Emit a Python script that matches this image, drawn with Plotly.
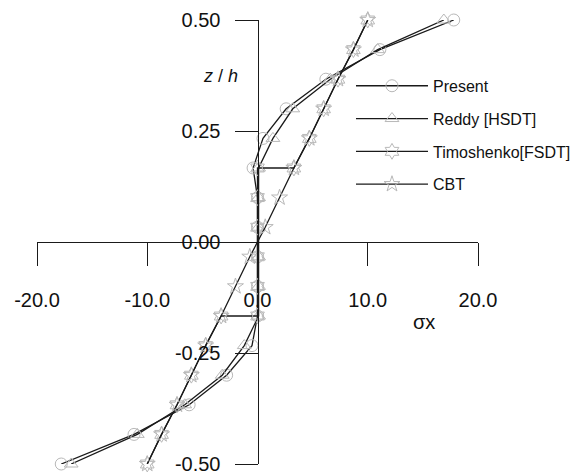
import plotly.graph_objects as go

# ---- data ----
z_levels = [0.5, 0.4333, 0.3667, 0.3, 0.2333, 0.1667, 0.1, 0.0333,
            -0.0333, -0.1, -0.1667, -0.2333, -0.3, -0.3667, -0.4333, -0.5]
present = [17.8, 11.1, 6.2, 2.6, 0.5, -0.4, 0.0, 0.0,
           0.0, 0.0, 0.0, -0.5, -2.8, -6.2, -11.2, -17.8]
reddy = [16.9, 10.9, 6.6, 3.2, 1.4, 0.1, 0.1, 0.1,
         0.1, 0.1, 0.1, -1.2, -3.2, -6.6, -10.9, -16.9]
timo_z = [0.5, 0.4333, 0.3667, 0.3, 0.2333, 0.1667, 0.1667, 0.1, 0.0333,
          -0.0333, -0.1, -0.1667, -0.1667, -0.2333, -0.3, -0.3667, -0.4333, -0.5]
timoshenko = [10.0, 8.7, 7.3, 6.0, 4.7, 3.3, 0.0, 0.0, 0.0,
              0.0, 0.0, 0.0, -3.3, -4.7, -6.0, -7.3, -8.7, -10.0]
cbt = [10.0, 8.7, 7.3, 6.0, 4.7, 3.3, 2.0, 0.7,
       -0.7, -2.0, -3.3, -4.7, -6.0, -7.3, -8.7, -10.0]

x_ticks = [-20, -10, 0, 10, 20]
x_tick_text = ["-20.0", "-10.0", "0.0", "10.0", "20.0"]
y_ticks = [0.5, 0.25, 0.0, -0.25, -0.5]
y_tick_text = ["0.50", "0.25", "0.00", "-0.25", "-0.50"]

FONT = "Liberation Sans, Arial, sans-serif"
LINE = "#1a1a1a"
MARK = "#b8b8b8"

series = [
    ("Present", present, z_levels, "circle-open"),
    ("Reddy [HSDT]", reddy, z_levels, "triangle-up-open"),
    ("Timoshenko[FSDT]", timoshenko, timo_z, "hexagram-open"),
    ("CBT", cbt, z_levels, "star-open"),
]

fig = go.Figure()
for i, (name, xs, zs, sym) in enumerate(series):
    fig.add_trace(go.Scatter(
        x=xs, y=zs, name=name, mode="lines+markers",
        line=dict(color=LINE, width=1.3),
        marker=dict(symbol=sym, size=12, color=MARK, line=dict(color=MARK, width=1)),
        cliponaxis=False, legendgroup=f"g{i}",
    ))

axis_common = dict(
    showgrid=False, zeroline=False, showline=True, linecolor=LINE, linewidth=1,
    ticks="outside", ticklen=23, tickcolor=LINE, tickwidth=1,
    tickfont=dict(family=FONT, size=20, color="#111"),
    anchor="free", position=0.5, automargin=False,
)

# the page body adds an 8 px offset, so the figure is 8 px smaller with shifted margins
fig.update_layout(
    template="none",
    width=579, height=467,
    margin=dict(l=29, r=105, t=12, b=11, pad=0),
    paper_bgcolor="white", plot_bgcolor="white",
    font=dict(family=FONT, color="#111"),
    xaxis=dict(range=[-20, 20], tickvals=x_ticks, ticktext=x_tick_text,
               ticklabelstandoff=17, **axis_common),
    yaxis=dict(range=[-0.5, 0.5], tickvals=y_ticks, ticktext=y_tick_text,
               ticklabelstandoff=10, **axis_common),
    legend=dict(x=0.712, y=0.89, xanchor="left", yanchor="top",
                font=dict(family=FONT, size=16, color="#111"),
                itemwidth=72, tracegroupgap=9, traceorder="grouped",
                bgcolor="rgba(0,0,0,0)", borderwidth=0),
    showlegend=True,
    annotations=[
        dict(x=-3.4, y=0.374, xref="x", yref="y", text="<i>z</i> / <i>h</i>",
             showarrow=False, font=dict(family=FONT, size=18, color="#111")),
        dict(x=15.1, y=-0.18, xref="x", yref="y", text="σx",
             showarrow=False, font=dict(family=FONT, size=20, color="#111")),
    ],
)

fig.write_html("out.html")
